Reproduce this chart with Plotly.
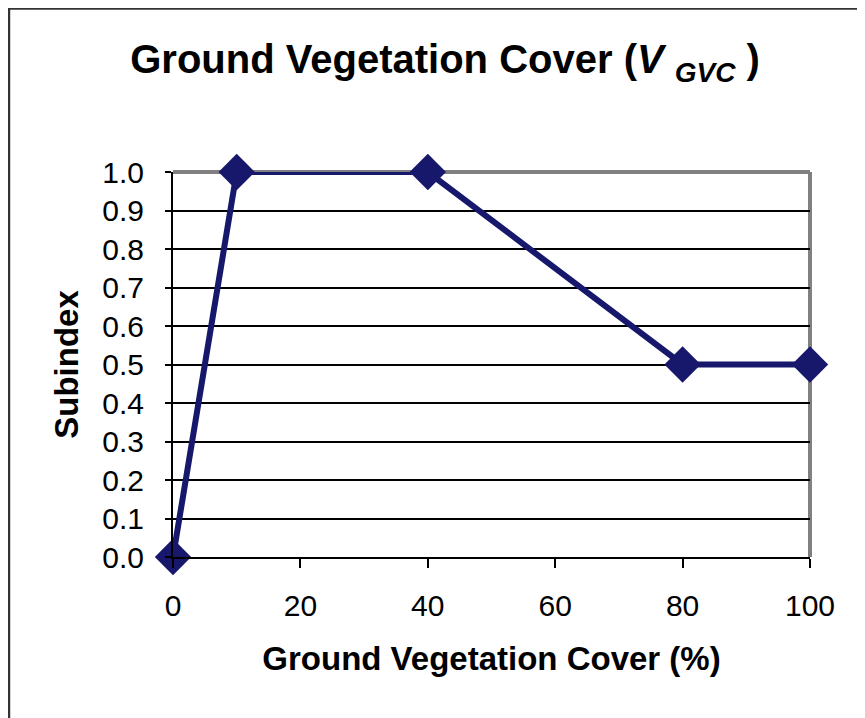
import plotly.graph_objects as go

cover_pct = [0, 10, 40, 80, 100]
subindex = [0.0, 1.0, 1.0, 0.5, 0.5]
y_ticks = [0.0, 0.1, 0.2, 0.3, 0.4, 0.5, 0.6, 0.7, 0.8, 0.9, 1.0]
y_tick_labels = ["0.0", "0.1", "0.2", "0.3", "0.4", "0.5", "0.6", "0.7", "0.8", "0.9", "1.0"]
x_ticks = [0, 20, 40, 60, 80, 100]

navy = "#17186b"
font_family = "Liberation Sans, Arial, sans-serif"

fig = go.Figure()
fig.add_trace(go.Scatter(
    x=cover_pct, y=subindex, mode="lines+markers",
    line=dict(color=navy, width=6),
    marker=dict(symbol="diamond", size=28, color=navy),
    cliponaxis=False, showlegend=False,
))

fig.update_layout(
    width=857, height=710,
    margin=dict(l=165, r=55, t=164, b=161),
    paper_bgcolor="white", plot_bgcolor="white",
    font=dict(family=font_family, color="black", size=28),
    title=dict(
        text="<b>Ground Vegetation Cover (<i>V</i> <sub><i>GVC</i></sub> )</b>",
        x=0.51, xanchor="center", y=0.928, yanchor="middle",
        font=dict(size=40, family=font_family),
    ),
    xaxis=dict(
        range=[0, 100], tickvals=x_ticks, ticks="outside", ticklen=9,
        tickcolor="black", tickwidth=2,
        showline=True, linecolor="black", linewidth=2,
        showgrid=False, zeroline=False, ticklabelstandoff=12,
        title=dict(text="<b>Ground Vegetation Cover (%)</b>", font=dict(size=33), standoff=26),
        tickfont=dict(size=30),
    ),
    yaxis=dict(
        range=[0, 1.0], tickvals=y_ticks, ticktext=y_tick_labels,
        ticks="outside", ticklen=6, tickcolor="black", tickwidth=2,
        showline=True, linecolor="black", linewidth=2,
        showgrid=True, gridcolor="black", gridwidth=1.5, zeroline=False,
        ticklabelstandoff=15,
        title=dict(text="<b>Subindex</b>", font=dict(size=33), standoff=14),
        tickfont=dict(size=30),
    ),
    shapes=[
        dict(type="line", xref="x domain", yref="y domain", x0=0, x1=1, y0=1, y1=1,
             line=dict(color="#808080", width=4), layer="below"),
        dict(type="line", xref="x domain", yref="y domain", x0=1, x1=1, y0=0, y1=1,
             line=dict(color="#808080", width=4), layer="below"),
        dict(type="rect", xref="paper", yref="paper", x0=-0.2575, x1=1.2, y0=-0.5, y1=1.4247,
             line=dict(color="#333333", width=2.5), layer="below"),
    ],
)

fig.write_html("out.html")
